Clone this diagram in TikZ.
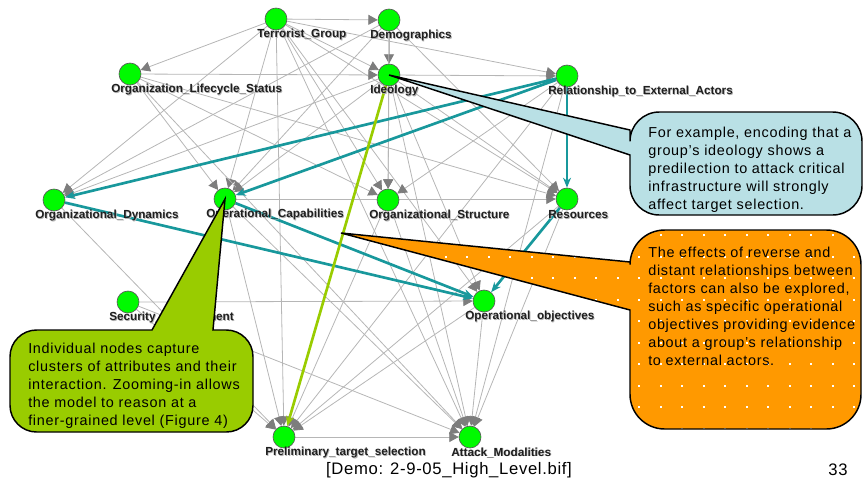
\documentclass[tikz,border=0pt]{standalone}
\usepackage{fontspec}
\setmainfont{Liberation Sans}
\newfontfamily\calloutfont[LetterSpace=5]{Liberation Sans}
\newfontfamily\captionfont[LetterSpace=4]{Liberation Sans}
\usetikzlibrary{arrows.meta}
\pgfdeclarelayer{edges}
\pgfdeclarelayer{front}
\pgfsetlayers{edges,main,front}

\definecolor{nodegreen}{RGB}{0,250,0}
\definecolor{edgegray}{RGB}{182,182,182}
\definecolor{tipgray}{RGB}{125,125,125}
\definecolor{hlteal}{RGB}{24,152,156}
\definecolor{hllime}{RGB}{153,204,0}
\definecolor{calloutblue}{RGB}{185,224,229}
\definecolor{calloutorange}{RGB}{255,153,0}
\definecolor{calloutgreen}{RGB}{153,204,0}

\tikzset{
  bn/.style={circle, draw=black!65, line width=0.5pt, fill=nodegreen,
    minimum size=16.5pt, inner sep=0pt},
  bnlabel/.style={anchor=west, inner sep=0pt,
    font=\bfseries\fontsize{8.8pt}{10pt}\selectfont, text=black!88},
  bnshadow/.style={bnlabel, text=black!30},
  dep/.style={draw=edgegray, line width=0.6pt,
    -{Triangle[length=7pt,width=7.5pt,color=tipgray]}},
  hl/.style={draw=hlteal, line width=2pt, -{Stealth[length=7.5pt,width=6pt]}},
  hllimeedge/.style={draw=hllime, line width=2pt, -{Stealth[length=7.5pt,width=6pt]}},
  callout/.style={draw=black, line width=1.1pt},
  callouttext/.style={anchor=north west, inner sep=0pt, align=left,
    font=\calloutfont\fontsize{10.8pt}{13.5pt}\selectfont},
}

% a variable of the network: green disc with its bold name below
\newcommand\bnvar[4]{%
  \node[bn] (#1) at (#2,#3) {};
  \node[bnshadow] (#1-shadow) at (#2-18.2,#3+16.3) {#4};
  \node[bnlabel] (#1-label) at (#2-19,#3+15.5) {#4};
}

\begin{document}
\begin{tikzpicture}[x=0.75pt,y=-0.75pt]
\useasboundingbox (0,0) rectangle (863,483);

% variables
\bnvar{TG}{276}{19}{Terrorist\_Group}
\bnvar{DE}{389}{20}{Demographics}
\bnvar{OLS}{130}{74}{Organization\_Lifecycle\_Status}
\bnvar{ID}{389}{75}{Ideology}
\bnvar{REA}{567}{76}{Relationship\_to\_External\_Actors}
\bnvar{OD}{54}{200}{Organizational\_Dynamics}
\bnvar{OC}{225}{199}{Operational\_Capabilities}
\bnvar{OS}{388}{200}{Organizational\_Structure}
\bnvar{RE}{567}{199}{Resources}
\bnvar{OO}{484}{301}{Operational\_objectives}
\bnvar{SE}{128}{302}{Security\_Environment}
\bnvar{PTS}{284}{437}{Preliminary\_target\_selection}
\bnvar{AM}{470}{437}{Attack\_Modalities}

% dependencies
\begin{pgfonlayer}{edges}
\foreach \a/\b in {TG/DE,TG/OLS,TG/ID,TG/REA,TG/OD,TG/OC,TG/OS,TG/RE,TG/OO,TG/PTS,TG/AM,
    DE/ID,DE/OD,DE/OC,DE/OS,DE/RE,
    OLS/ID,OLS/OC,OLS/OS,OLS/RE,OLS/AM,
    ID/REA,ID/OD,ID/OC,ID/OS,ID/RE,ID/OO,ID/AM,
    REA/OS,REA/PTS,REA/AM,
    OD/PTS,OC/RE,OC/PTS,OC/AM,
    OS/PTS,OS/AM,RE/PTS,RE/AM,OO/PTS,OO/AM,
    SE/OO,SE/AM,SE/PTS,PTS/AM}
  \draw[dep] (\a) -- (\b);
\foreach \a/\b in {REA/OD,REA/OC,REA/RE,OD/OO,OC/OO,RE/OO}
  \draw[hl] (\a) -- (\b);
\draw[hllimeedge] (ID) -- (PTS);
\end{pgfonlayer}

\begin{pgfonlayer}{front}
% callout on the ideology variable
\draw[callout, fill=calloutblue] (ID.center) -- (630,155) [rounded corners=22]
  -- (630,215) -- (862,215) -- (862,112) -- (630,112) [sharp corners] -- (630,130) -- cycle;
\node[callouttext] (ideologynote) at (648,126.5)
  {For example, encoding that a\\group’s ideology shows a\\predilection to attack critical\\infrastructure will strongly\\affect target selection.};

% dotted callout on the reverse relationships
\coordinate (revpoint) at (341,233);
\def\orangeshape{(revpoint) -- (630,310) [rounded corners=26]
  -- (630,429) -- (861,429) -- (861,230) -- (630,230) [sharp corners] -- (630,262) -- cycle}
\fill[calloutorange] \orangeshape;
\begin{scope}
  \clip \orangeshape;
  \foreach \i in {-9,...,10}
    \foreach \j in {0,...,9}
      \fill[white] ({639+21.5*\i-1},{235+21.5*\j-1}) rectangle ++(2,2);
\end{scope}
\draw[callout] \orangeshape;
\node[callouttext] (reversenote) at (648,246.5)
  {The effects of reverse and\\distant relationships between\\factors can also be explored,\\such as specific operational\\objectives providing evidence\\about a group’s relationship\\to external actors.};

% callout on the capabilities variable
\draw[callout, fill=calloutgreen] (OC.center) -- (152,330) [rounded corners=20]
  -- (10,330) -- (10,432) -- (253,432) -- (253,330) [sharp corners] -- (213,330) -- cycle;
\node[callouttext] (zoomnote) at (28,342.5)
  {Individual nodes capture\\clusters of attributes and their\\interaction. Zooming-in allows\\the model to reason at a\\finer-grained level (Figure 4)};
\end{pgfonlayer}

% footer
\node[font=\captionfont\fontsize{12.5pt}{14pt}\selectfont, inner sep=0pt] (demo) at (449,470)
  {[Demo: 2-9-05\_High\_Level.bif]};
\node[font=\captionfont\fontsize{12.5pt}{14pt}\selectfont, inner sep=0pt] (pageno) at (838,470) {33};
\end{tikzpicture}
\end{document}
